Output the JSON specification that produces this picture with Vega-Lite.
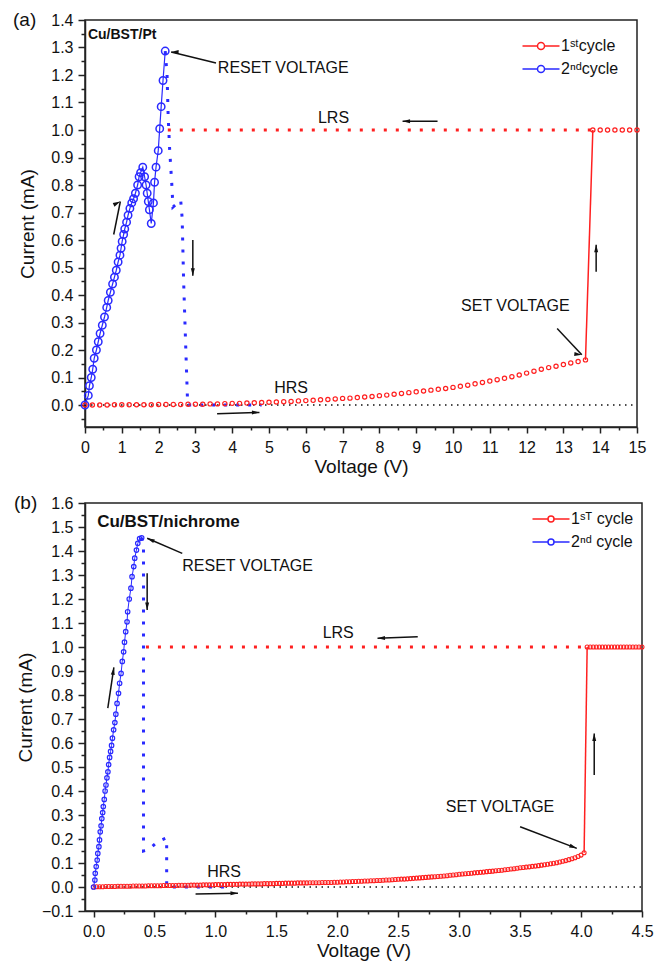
{
"$schema": "https://vega.github.io/schema/vega-lite/v6.json",
"padding": {"left": 12, "top": 10, "right": 8, "bottom": 5},
"columns": 1,
"spacing": 16,
"resolve": {"scale": {"color": "independent"}, "legend": {"color": "independent"}},
"config": {
  "font": "Liberation Sans",
  "view": {"stroke": "#222", "strokeWidth": 1.5},
  "axis": {"grid": false, "domainColor": "#222", "domainWidth": 1.5, "tickColor": "#222", "tickWidth": 1.5, "labelFont": "Liberation Sans", "labelFontSize": 16, "labelColor": "#111", "titleFont": "Liberation Sans", "titleFontSize": 19, "titleFontWeight": "normal", "titleColor": "#111", "labelFlush": false, "labelOverlap": false, "labelBound": false},
  "axisX": {"labelPadding": 6, "titlePadding": 2},
  "axisY": {"labelPadding": 5},
  "point": {"opacity": 1},
  "text": {"font": "Liberation Sans", "fontSize": 16, "color": "#111", "align": "left", "baseline": "middle"},
  "legend": {"title": null, "orient": "top-right", "labelFontSize": 16, "labelFont": "Liberation Sans", "labelColor": "#111", "symbolSize": 100, "symbolStrokeWidth": 1.5, "symbolFillColor": "transparent", "labelOffset": 12, "rowPadding": 7}
},
"concat": [
{
  "width": 552, "height": 407,
  "title": {"text": "(a)", "anchor": "start", "frame": "group", "orient": "top", "offset": 0, "dx": -72, "dy": 18, "fontSize": 19, "fontWeight": "normal", "font": "Liberation Sans", "color": "#111"},
  "encoding": {
    "x": {"field": "x", "type": "quantitative", "title": "Voltage (V)", "scale": {"domain": [0, 15], "nice": false, "zero": false},
      "axis": {"values": [0,0.5,1,1.5,2,2.5,3,3.5,4,4.5,5,5.5,6,6.5,7,7.5,8,8.5,9,9.5,10,10.5,11,11.5,12,12.5,13,13.5,14,14.5,15],
        "labelExpr": "datum.value % 1 === 0 ? format(datum.value, 'd') : ''",
        "tickSize": {"condition": {"test": "datum.value % 1 === 0", "value": 6}, "value": 3}}},
    "y": {"field": "y", "type": "quantitative", "title": "Current (mA)", "scale": {"domain": [-0.08, 1.4], "nice": false, "zero": false},
      "axis": {"titlePadding": 13, "values": [-0.05,0,0.05,0.1,0.15,0.2,0.25,0.3,0.35,0.4,0.45,0.5,0.55,0.6,0.65,0.7,0.75,0.8,0.85,0.9,0.95,1,1.05,1.1,1.15,1.2,1.25,1.3,1.35,1.4],
        "labelExpr": "abs(datum.value*10 - round(datum.value*10)) < 0.000001 ? format(datum.value, '.1f') : ''",
        "tickSize": {"condition": {"test": "abs(datum.value*10 - round(datum.value*10)) < 0.000001", "value": 7}, "value": 4}}}
  },
  "layer": [
    {"data": {"values": [{"x": 0, "y": 0}, {"x": 15, "y": 0}]},
     "mark": {"type": "line", "color": "#111", "strokeWidth": 1.5, "strokeDash": [1.5, 4.5]}, "encoding": {}},
    {"data": {"values": [{"x": 2.25, "y": 1}, {"x": 13.8, "y": 1}]},
     "mark": {"type": "line", "color": "#ff2020", "strokeWidth": 3, "strokeDash": [3, 9]}, "encoding": {}},
    {"data": {"values": [{"x": 2.18, "y": 1.287}, {"x": 2.23, "y": 1.2}, {"x": 2.26, "y": 1.05}, {"x": 2.3, "y": 0.93}, {"x": 2.36, "y": 0.8}, {"x": 2.39, "y": 0.72}, {"x": 2.6, "y": 0.745}, {"x": 2.64, "y": 0.68}, {"x": 2.68, "y": 0.45}, {"x": 2.74, "y": 0.2}, {"x": 2.79, "y": 0}, {"x": 4.8, "y": 0}]},
     "mark": {"type": "line", "color": "#2a2aff", "strokeWidth": 3, "strokeDash": [3, 9]}, "encoding": {"order": {"value": null}}},
    {"data": {"values": [{"x": 13.6, "y": 0.164}, {"x": 13.8, "y": 1}]},
     "mark": {"type": "line", "color": "#ff2020", "strokeWidth": 1.5}, "encoding": {}},
    {"data": {"name": "topBlue", "values": [
      {"x":0,"y":0,"s":"2ⁿᵈcycle"},{"x":0.09,"y":0.035,"s":"2ⁿᵈcycle"},{"x":0.12,"y":0.07,"s":"2ⁿᵈcycle"},{"x":0.17,"y":0.1,"s":"2ⁿᵈcycle"},{"x":0.21,"y":0.13,"s":"2ⁿᵈcycle"},{"x":0.25,"y":0.17,"s":"2ⁿᵈcycle"},{"x":0.31,"y":0.2,"s":"2ⁿᵈcycle"},{"x":0.36,"y":0.23,"s":"2ⁿᵈcycle"},{"x":0.41,"y":0.26,"s":"2ⁿᵈcycle"},{"x":0.47,"y":0.29,"s":"2ⁿᵈcycle"},{"x":0.53,"y":0.32,"s":"2ⁿᵈcycle"},{"x":0.59,"y":0.355,"s":"2ⁿᵈcycle"},{"x":0.63,"y":0.38,"s":"2ⁿᵈcycle"},{"x":0.69,"y":0.41,"s":"2ⁿᵈcycle"},{"x":0.75,"y":0.44,"s":"2ⁿᵈcycle"},{"x":0.8,"y":0.465,"s":"2ⁿᵈcycle"},{"x":0.85,"y":0.49,"s":"2ⁿᵈcycle"},{"x":0.9,"y":0.52,"s":"2ⁿᵈcycle"},{"x":0.95,"y":0.545,"s":"2ⁿᵈcycle"},{"x":0.98,"y":0.57,"s":"2ⁿᵈcycle"},{"x":1.01,"y":0.595,"s":"2ⁿᵈcycle"},{"x":1.05,"y":0.62,"s":"2ⁿᵈcycle"},{"x":1.08,"y":0.64,"s":"2ⁿᵈcycle"},{"x":1.13,"y":0.665,"s":"2ⁿᵈcycle"},{"x":1.17,"y":0.69,"s":"2ⁿᵈcycle"},{"x":1.22,"y":0.715,"s":"2ⁿᵈcycle"},{"x":1.27,"y":0.735,"s":"2ⁿᵈcycle"},{"x":1.32,"y":0.75,"s":"2ⁿᵈcycle"},{"x":1.37,"y":0.77,"s":"2ⁿᵈcycle"},{"x":1.43,"y":0.8,"s":"2ⁿᵈcycle"},{"x":1.47,"y":0.83,"s":"2ⁿᵈcycle"},{"x":1.51,"y":0.845,"s":"2ⁿᵈcycle"},{"x":1.57,"y":0.865,"s":"2ⁿᵈcycle"},{"x":1.62,"y":0.83,"s":"2ⁿᵈcycle"},{"x":1.66,"y":0.8,"s":"2ⁿᵈcycle"},{"x":1.69,"y":0.77,"s":"2ⁿᵈcycle"},{"x":1.72,"y":0.74,"s":"2ⁿᵈcycle"},{"x":1.75,"y":0.71,"s":"2ⁿᵈcycle"},{"x":1.8,"y":0.66,"s":"2ⁿᵈcycle"},{"x":1.86,"y":0.735,"s":"2ⁿᵈcycle"},{"x":1.89,"y":0.81,"s":"2ⁿᵈcycle"},{"x":1.93,"y":0.865,"s":"2ⁿᵈcycle"},{"x":1.99,"y":0.925,"s":"2ⁿᵈcycle"},{"x":2.03,"y":1.005,"s":"2ⁿᵈcycle"},{"x":2.07,"y":1.085,"s":"2ⁿᵈcycle"},{"x":2.12,"y":1.18,"s":"2ⁿᵈcycle"},{"x":2.18,"y":1.287,"s":"2ⁿᵈcycle"}]},
     "mark": {"type": "line", "color": "#2a2aff", "strokeWidth": 1.2}, "encoding": {"order": {"value": null}}},
    {"data": {"values": [
      {"x":0,"y":0,"s":"1ˢᵗcycle"},{"x":0.2,"y":0,"s":"1ˢᵗcycle"},{"x":0.4,"y":0,"s":"1ˢᵗcycle"},{"x":0.6,"y":0,"s":"1ˢᵗcycle"},{"x":0.8,"y":0.001,"s":"1ˢᵗcycle"},{"x":1,"y":0.001,"s":"1ˢᵗcycle"},{"x":1.2,"y":0.001,"s":"1ˢᵗcycle"},{"x":1.4,"y":0.001,"s":"1ˢᵗcycle"},{"x":1.6,"y":0.001,"s":"1ˢᵗcycle"},{"x":1.8,"y":0.001,"s":"1ˢᵗcycle"},{"x":2,"y":0.002,"s":"1ˢᵗcycle"},{"x":2.2,"y":0.002,"s":"1ˢᵗcycle"},{"x":2.4,"y":0.002,"s":"1ˢᵗcycle"},{"x":2.6,"y":0.002,"s":"1ˢᵗcycle"},{"x":2.8,"y":0.003,"s":"1ˢᵗcycle"},{"x":3,"y":0.003,"s":"1ˢᵗcycle"},{"x":3.2,"y":0.003,"s":"1ˢᵗcycle"},{"x":3.4,"y":0.004,"s":"1ˢᵗcycle"},{"x":3.6,"y":0.004,"s":"1ˢᵗcycle"},{"x":3.8,"y":0.005,"s":"1ˢᵗcycle"},{"x":4,"y":0.006,"s":"1ˢᵗcycle"},{"x":4.2,"y":0.006,"s":"1ˢᵗcycle"},{"x":4.4,"y":0.007,"s":"1ˢᵗcycle"},{"x":4.6,"y":0.008,"s":"1ˢᵗcycle"},{"x":4.8,"y":0.009,"s":"1ˢᵗcycle"},{"x":5,"y":0.01,"s":"1ˢᵗcycle"},{"x":5.2,"y":0.011,"s":"1ˢᵗcycle"},{"x":5.4,"y":0.012,"s":"1ˢᵗcycle"},{"x":5.6,"y":0.013,"s":"1ˢᵗcycle"},{"x":5.8,"y":0.015,"s":"1ˢᵗcycle"},{"x":6,"y":0.016,"s":"1ˢᵗcycle"},{"x":6.2,"y":0.017,"s":"1ˢᵗcycle"},{"x":6.4,"y":0.019,"s":"1ˢᵗcycle"},{"x":6.6,"y":0.02,"s":"1ˢᵗcycle"},{"x":6.8,"y":0.022,"s":"1ˢᵗcycle"},{"x":7,"y":0.024,"s":"1ˢᵗcycle"},{"x":7.2,"y":0.025,"s":"1ˢᵗcycle"},{"x":7.4,"y":0.027,"s":"1ˢᵗcycle"},{"x":7.6,"y":0.029,"s":"1ˢᵗcycle"},{"x":7.8,"y":0.031,"s":"1ˢᵗcycle"},{"x":8,"y":0.034,"s":"1ˢᵗcycle"},{"x":8.2,"y":0.036,"s":"1ˢᵗcycle"},{"x":8.4,"y":0.039,"s":"1ˢᵗcycle"},{"x":8.6,"y":0.042,"s":"1ˢᵗcycle"},{"x":8.8,"y":0.045,"s":"1ˢᵗcycle"},{"x":9,"y":0.048,"s":"1ˢᵗcycle"},{"x":9.2,"y":0.051,"s":"1ˢᵗcycle"},{"x":9.4,"y":0.054,"s":"1ˢᵗcycle"},{"x":9.6,"y":0.057,"s":"1ˢᵗcycle"},{"x":9.8,"y":0.06,"s":"1ˢᵗcycle"},{"x":10,"y":0.064,"s":"1ˢᵗcycle"},{"x":10.2,"y":0.068,"s":"1ˢᵗcycle"},{"x":10.4,"y":0.072,"s":"1ˢᵗcycle"},{"x":10.6,"y":0.077,"s":"1ˢᵗcycle"},{"x":10.8,"y":0.082,"s":"1ˢᵗcycle"},{"x":11,"y":0.087,"s":"1ˢᵗcycle"},{"x":11.2,"y":0.092,"s":"1ˢᵗcycle"},{"x":11.4,"y":0.097,"s":"1ˢᵗcycle"},{"x":11.6,"y":0.103,"s":"1ˢᵗcycle"},{"x":11.8,"y":0.109,"s":"1ˢᵗcycle"},{"x":12,"y":0.116,"s":"1ˢᵗcycle"},{"x":12.2,"y":0.123,"s":"1ˢᵗcycle"},{"x":12.4,"y":0.13,"s":"1ˢᵗcycle"},{"x":12.6,"y":0.136,"s":"1ˢᵗcycle"},{"x":12.8,"y":0.141,"s":"1ˢᵗcycle"},{"x":13,"y":0.147,"s":"1ˢᵗcycle"},{"x":13.2,"y":0.153,"s":"1ˢᵗcycle"},{"x":13.4,"y":0.158,"s":"1ˢᵗcycle"},{"x":13.6,"y":0.164,"s":"1ˢᵗcycle"},
      {"x":13.8,"y":1,"s":"1ˢᵗcycle"},{"x":14,"y":1,"s":"1ˢᵗcycle"},{"x":14.2,"y":1,"s":"1ˢᵗcycle"},{"x":14.4,"y":1,"s":"1ˢᵗcycle"},{"x":14.6,"y":1,"s":"1ˢᵗcycle"},{"x":14.8,"y":1,"s":"1ˢᵗcycle"},{"x":15,"y":1,"s":"1ˢᵗcycle"}]},
     "mark": {"type": "point", "filled": false, "size": 18, "strokeWidth": 1.2, "opacity": 1},
     "encoding": {"color": {"field": "s", "type": "nominal", "scale": {"domain": ["1ˢᵗcycle", "2ⁿᵈcycle"], "range": ["#ff2020", "#2a2aff"]},
       "legend": {"offset": 18, "symbolType": "M-3.7,0L-0.7,0M0.7,0L3.7,0M0.7,0A0.7,0.7,0,1,1,-0.7,0A0.7,0.7,0,1,1,0.7,0"}}}},
    {"data": {"name": "topBlue"},
     "mark": {"type": "point", "filled": false, "size": 55, "strokeWidth": 1.5, "opacity": 1},
     "encoding": {"color": {"field": "s", "type": "nominal", "scale": {"domain": ["1ˢᵗcycle", "2ⁿᵈcycle"], "range": ["#ff2020", "#2a2aff"]},
       "legend": {"offset": 18, "symbolType": "M-3.7,0L-0.7,0M0.7,0L3.7,0M0.7,0A0.7,0.7,0,1,1,-0.7,0A0.7,0.7,0,1,1,0.7,0"}}}},
    {"data": {"values": [{"x": 3.61, "y": 1.225, "t": "RESET VOLTAGE"}, {"x": 6.33, "y": 1.043, "t": "LRS"}, {"x": 10.22, "y": 0.36, "t": "SET VOLTAGE"}, {"x": 5.14, "y": 0.062, "t": "HRS"}]},
     "mark": {"type": "text"}, "encoding": {"text": {"field": "t"}}},
    {"data": {"values": [{"x": 0.08, "y": 1.345, "t": "Cu/BST/Pt"}]},
     "mark": {"type": "text", "fontWeight": "bold", "fontSize": 14}, "encoding": {"text": {"field": "t"}}},
    {"data": {"name": "topArrows", "values": [
      {"x": 2.34, "y": 1.284, "x2": 3.56, "y2": 1.244},
      {"x": 8.63, "y": 1.032, "x2": 9.58, "y2": 1.032},
      {"x": 13.5, "y": 0.183, "x2": 12.83, "y2": 0.278},
      {"x": 13.89, "y": 0.583, "x2": 13.89, "y2": 0.485},
      {"x": 4.74, "y": -0.027, "x2": 3.59, "y2": -0.032},
      {"x": 0.96, "y": 0.74, "x2": 0.78, "y2": 0.62},
      {"x": 2.93, "y": 0.47, "x2": 2.93, "y2": 0.6}]},
     "mark": {"type": "rule", "color": "#111", "strokeWidth": 1.5},
     "encoding": {"x2": {"field": "x2"}, "y2": {"field": "y2"}}},
    {"data": {"name": "topArrows"},
     "transform": [{"calculate": "atan2((datum.x - datum.x2) * 36.8, (datum.y - datum.y2) * 27.43) * 180 / PI", "as": "a"}],
     "mark": {"type": "point", "shape": "M0,0L0.8,3L-0.8,3Z", "filled": true, "color": "#111", "size": 25, "opacity": 1},
     "encoding": {"angle": {"field": "a", "type": "quantitative", "scale": null}}}
  ]
},
{
  "width": 557, "height": 408,
  "title": {"text": "(b)", "anchor": "start", "frame": "group", "orient": "top", "offset": 0, "dx": -71, "dy": 18, "fontSize": 19, "fontWeight": "normal", "font": "Liberation Sans", "color": "#111"},
  "encoding": {
    "x": {"field": "x", "type": "quantitative", "title": "Voltage (V)", "scale": {"domain": [-0.07, 4.5], "nice": false, "zero": false},
      "axis": {"values": [0,0.25,0.5,0.75,1,1.25,1.5,1.75,2,2.25,2.5,2.75,3,3.25,3.5,3.75,4,4.25,4.5],
        "labelExpr": "(datum.value*2) % 1 === 0 ? format(datum.value, '.1f') : ''",
        "tickSize": {"condition": {"test": "(datum.value*2) % 1 === 0", "value": 6}, "value": 3}}},
    "y": {"field": "y", "type": "quantitative", "title": "Current (mA)", "scale": {"domain": [-0.1, 1.6], "nice": false, "zero": false},
      "axis": {"titlePadding": 6, "values": [-0.1,-0.05,0,0.05,0.1,0.15,0.2,0.25,0.3,0.35,0.4,0.45,0.5,0.55,0.6,0.65,0.7,0.75,0.8,0.85,0.9,0.95,1,1.05,1.1,1.15,1.2,1.25,1.3,1.35,1.4,1.45,1.5,1.55,1.6],
        "labelExpr": "abs(datum.value*10 - round(datum.value*10)) < 0.000001 ? format(datum.value, '.1f') : ''",
        "tickSize": {"condition": {"test": "abs(datum.value*10 - round(datum.value*10)) < 0.000001", "value": 7}, "value": 4}}}
  },
  "layer": [
    {"data": {"values": [{"x": 0, "y": 0}, {"x": 4.5, "y": 0}]},
     "mark": {"type": "line", "color": "#111", "strokeWidth": 1.5, "strokeDash": [1.5, 4.5]}, "encoding": {}},
    {"data": {"values": [{"x": 0.43, "y": 1}, {"x": 4.05, "y": 1}]},
     "mark": {"type": "line", "color": "#ff2020", "strokeWidth": 3, "strokeDash": [3, 9]}, "encoding": {}},
    {"data": {"values": [{"x": 0.395, "y": 1.455}, {"x": 0.41, "y": 1.42}, {"x": 0.41, "y": 0.15}, {"x": 0.45, "y": 0.155}, {"x": 0.53, "y": 0.19}, {"x": 0.6, "y": 0.205}, {"x": 0.6, "y": 0}, {"x": 1.1, "y": 0}]},
     "mark": {"type": "line", "color": "#2a2aff", "strokeWidth": 3, "strokeDash": [3, 9]}, "encoding": {"order": {"value": null}}},
    {"data": {"values": [{"x": 4.025, "y": 0.143}, {"x": 4.05, "y": 1}]},
     "mark": {"type": "line", "color": "#ff2020", "strokeWidth": 1.5}, "encoding": {}},
    {"data": {"name": "botBlue", "values": [
      {"x":0,"y":0,"s":"2ⁿᵈ cycle"},{"x":0.011,"y":0.029,"s":"2ⁿᵈ cycle"},{"x":0.014,"y":0.057,"s":"2ⁿᵈ cycle"},{"x":0.022,"y":0.085,"s":"2ⁿᵈ cycle"},{"x":0.03,"y":0.112,"s":"2ⁿᵈ cycle"},{"x":0.035,"y":0.14,"s":"2ⁿᵈ cycle"},{"x":0.044,"y":0.168,"s":"2ⁿᵈ cycle"},{"x":0.049,"y":0.196,"s":"2ⁿᵈ cycle"},{"x":0.055,"y":0.23,"s":"2ⁿᵈ cycle"},{"x":0.062,"y":0.255,"s":"2ⁿᵈ cycle"},{"x":0.068,"y":0.285,"s":"2ⁿᵈ cycle"},{"x":0.075,"y":0.31,"s":"2ⁿᵈ cycle"},{"x":0.08,"y":0.335,"s":"2ⁿᵈ cycle"},{"x":0.088,"y":0.365,"s":"2ⁿᵈ cycle"},{"x":0.095,"y":0.4,"s":"2ⁿᵈ cycle"},{"x":0.102,"y":0.425,"s":"2ⁿᵈ cycle"},{"x":0.11,"y":0.455,"s":"2ⁿᵈ cycle"},{"x":0.118,"y":0.48,"s":"2ⁿᵈ cycle"},{"x":0.124,"y":0.51,"s":"2ⁿᵈ cycle"},{"x":0.132,"y":0.54,"s":"2ⁿᵈ cycle"},{"x":0.14,"y":0.565,"s":"2ⁿᵈ cycle"},{"x":0.148,"y":0.59,"s":"2ⁿᵈ cycle"},{"x":0.155,"y":0.62,"s":"2ⁿᵈ cycle"},{"x":0.165,"y":0.655,"s":"2ⁿᵈ cycle"},{"x":0.175,"y":0.685,"s":"2ⁿᵈ cycle"},{"x":0.183,"y":0.72,"s":"2ⁿᵈ cycle"},{"x":0.193,"y":0.765,"s":"2ⁿᵈ cycle"},{"x":0.205,"y":0.807,"s":"2ⁿᵈ cycle"},{"x":0.214,"y":0.849,"s":"2ⁿᵈ cycle"},{"x":0.226,"y":0.89,"s":"2ⁿᵈ cycle"},{"x":0.236,"y":0.94,"s":"2ⁿᵈ cycle"},{"x":0.247,"y":0.98,"s":"2ⁿᵈ cycle"},{"x":0.254,"y":1.02,"s":"2ⁿᵈ cycle"},{"x":0.264,"y":1.064,"s":"2ⁿᵈ cycle"},{"x":0.275,"y":1.105,"s":"2ⁿᵈ cycle"},{"x":0.28,"y":1.147,"s":"2ⁿᵈ cycle"},{"x":0.293,"y":1.2,"s":"2ⁿᵈ cycle"},{"x":0.307,"y":1.245,"s":"2ⁿᵈ cycle"},{"x":0.316,"y":1.293,"s":"2ⁿᵈ cycle"},{"x":0.33,"y":1.335,"s":"2ⁿᵈ cycle"},{"x":0.338,"y":1.37,"s":"2ⁿᵈ cycle"},{"x":0.352,"y":1.404,"s":"2ⁿᵈ cycle"},{"x":0.363,"y":1.432,"s":"2ⁿᵈ cycle"},{"x":0.378,"y":1.452,"s":"2ⁿᵈ cycle"},{"x":0.395,"y":1.455,"s":"2ⁿᵈ cycle"}]},
     "mark": {"type": "line", "color": "#2a2aff", "strokeWidth": 1}, "encoding": {"order": {"value": null}}},
    {"data": {"values": [
      {"x":0,"y":0,"s":"1ˢᵀ cycle"},{"x":0.025,"y":0.001,"s":"1ˢᵀ cycle"},{"x":0.05,"y":0.001,"s":"1ˢᵀ cycle"},{"x":0.075,"y":0.001,"s":"1ˢᵀ cycle"},{"x":0.1,"y":0.002,"s":"1ˢᵀ cycle"},{"x":0.125,"y":0.002,"s":"1ˢᵀ cycle"},{"x":0.15,"y":0.002,"s":"1ˢᵀ cycle"},{"x":0.175,"y":0.002,"s":"1ˢᵀ cycle"},{"x":0.2,"y":0.003,"s":"1ˢᵀ cycle"},{"x":0.225,"y":0.003,"s":"1ˢᵀ cycle"},{"x":0.25,"y":0.003,"s":"1ˢᵀ cycle"},{"x":0.275,"y":0.003,"s":"1ˢᵀ cycle"},{"x":0.3,"y":0.003,"s":"1ˢᵀ cycle"},{"x":0.325,"y":0.004,"s":"1ˢᵀ cycle"},{"x":0.35,"y":0.004,"s":"1ˢᵀ cycle"},{"x":0.375,"y":0.004,"s":"1ˢᵀ cycle"},{"x":0.4,"y":0.004,"s":"1ˢᵀ cycle"},{"x":0.425,"y":0.004,"s":"1ˢᵀ cycle"},{"x":0.45,"y":0.005,"s":"1ˢᵀ cycle"},{"x":0.475,"y":0.005,"s":"1ˢᵀ cycle"},
      {"x":0.5,"y":0.005,"s":"1ˢᵀ cycle"},{"x":0.525,"y":0.005,"s":"1ˢᵀ cycle"},{"x":0.55,"y":0.005,"s":"1ˢᵀ cycle"},{"x":0.575,"y":0.006,"s":"1ˢᵀ cycle"},{"x":0.6,"y":0.006,"s":"1ˢᵀ cycle"},{"x":0.625,"y":0.006,"s":"1ˢᵀ cycle"},{"x":0.65,"y":0.006,"s":"1ˢᵀ cycle"},{"x":0.675,"y":0.006,"s":"1ˢᵀ cycle"},{"x":0.7,"y":0.007,"s":"1ˢᵀ cycle"},{"x":0.725,"y":0.007,"s":"1ˢᵀ cycle"},{"x":0.75,"y":0.007,"s":"1ˢᵀ cycle"},{"x":0.775,"y":0.007,"s":"1ˢᵀ cycle"},{"x":0.8,"y":0.008,"s":"1ˢᵀ cycle"},{"x":0.825,"y":0.008,"s":"1ˢᵀ cycle"},{"x":0.85,"y":0.008,"s":"1ˢᵀ cycle"},{"x":0.875,"y":0.008,"s":"1ˢᵀ cycle"},{"x":0.9,"y":0.009,"s":"1ˢᵀ cycle"},{"x":0.925,"y":0.009,"s":"1ˢᵀ cycle"},{"x":0.95,"y":0.009,"s":"1ˢᵀ cycle"},{"x":0.975,"y":0.009,"s":"1ˢᵀ cycle"},
      {"x":1,"y":0.01,"s":"1ˢᵀ cycle"},{"x":1.025,"y":0.01,"s":"1ˢᵀ cycle"},{"x":1.05,"y":0.01,"s":"1ˢᵀ cycle"},{"x":1.075,"y":0.01,"s":"1ˢᵀ cycle"},{"x":1.1,"y":0.011,"s":"1ˢᵀ cycle"},{"x":1.125,"y":0.011,"s":"1ˢᵀ cycle"},{"x":1.15,"y":0.011,"s":"1ˢᵀ cycle"},{"x":1.175,"y":0.011,"s":"1ˢᵀ cycle"},{"x":1.2,"y":0.012,"s":"1ˢᵀ cycle"},{"x":1.225,"y":0.012,"s":"1ˢᵀ cycle"},{"x":1.25,"y":0.012,"s":"1ˢᵀ cycle"},{"x":1.275,"y":0.012,"s":"1ˢᵀ cycle"},{"x":1.3,"y":0.013,"s":"1ˢᵀ cycle"},{"x":1.325,"y":0.013,"s":"1ˢᵀ cycle"},{"x":1.35,"y":0.013,"s":"1ˢᵀ cycle"},{"x":1.375,"y":0.013,"s":"1ˢᵀ cycle"},{"x":1.4,"y":0.014,"s":"1ˢᵀ cycle"},{"x":1.425,"y":0.014,"s":"1ˢᵀ cycle"},{"x":1.45,"y":0.014,"s":"1ˢᵀ cycle"},{"x":1.475,"y":0.014,"s":"1ˢᵀ cycle"},
      {"x":1.5,"y":0.015,"s":"1ˢᵀ cycle"},{"x":1.525,"y":0.015,"s":"1ˢᵀ cycle"},{"x":1.55,"y":0.015,"s":"1ˢᵀ cycle"},{"x":1.575,"y":0.016,"s":"1ˢᵀ cycle"},{"x":1.6,"y":0.016,"s":"1ˢᵀ cycle"},{"x":1.625,"y":0.016,"s":"1ˢᵀ cycle"},{"x":1.65,"y":0.016,"s":"1ˢᵀ cycle"},{"x":1.675,"y":0.017,"s":"1ˢᵀ cycle"},{"x":1.7,"y":0.017,"s":"1ˢᵀ cycle"},{"x":1.725,"y":0.017,"s":"1ˢᵀ cycle"},{"x":1.75,"y":0.017,"s":"1ˢᵀ cycle"},{"x":1.775,"y":0.018,"s":"1ˢᵀ cycle"},{"x":1.8,"y":0.018,"s":"1ˢᵀ cycle"},{"x":1.825,"y":0.018,"s":"1ˢᵀ cycle"},{"x":1.85,"y":0.018,"s":"1ˢᵀ cycle"},{"x":1.875,"y":0.019,"s":"1ˢᵀ cycle"},{"x":1.9,"y":0.019,"s":"1ˢᵀ cycle"},{"x":1.925,"y":0.019,"s":"1ˢᵀ cycle"},{"x":1.95,"y":0.019,"s":"1ˢᵀ cycle"},{"x":1.975,"y":0.02,"s":"1ˢᵀ cycle"},
      {"x":2,"y":0.02,"s":"1ˢᵀ cycle"},{"x":2.025,"y":0.021,"s":"1ˢᵀ cycle"},{"x":2.05,"y":0.021,"s":"1ˢᵀ cycle"},{"x":2.075,"y":0.022,"s":"1ˢᵀ cycle"},{"x":2.1,"y":0.022,"s":"1ˢᵀ cycle"},{"x":2.125,"y":0.023,"s":"1ˢᵀ cycle"},{"x":2.15,"y":0.023,"s":"1ˢᵀ cycle"},{"x":2.175,"y":0.024,"s":"1ˢᵀ cycle"},{"x":2.2,"y":0.024,"s":"1ˢᵀ cycle"},{"x":2.225,"y":0.025,"s":"1ˢᵀ cycle"},{"x":2.25,"y":0.025,"s":"1ˢᵀ cycle"},{"x":2.275,"y":0.026,"s":"1ˢᵀ cycle"},{"x":2.3,"y":0.026,"s":"1ˢᵀ cycle"},{"x":2.325,"y":0.027,"s":"1ˢᵀ cycle"},{"x":2.35,"y":0.027,"s":"1ˢᵀ cycle"},{"x":2.375,"y":0.028,"s":"1ˢᵀ cycle"},{"x":2.4,"y":0.029,"s":"1ˢᵀ cycle"},{"x":2.425,"y":0.029,"s":"1ˢᵀ cycle"},{"x":2.45,"y":0.03,"s":"1ˢᵀ cycle"},{"x":2.475,"y":0.031,"s":"1ˢᵀ cycle"},
      {"x":2.5,"y":0.032,"s":"1ˢᵀ cycle"},{"x":2.525,"y":0.033,"s":"1ˢᵀ cycle"},{"x":2.55,"y":0.033,"s":"1ˢᵀ cycle"},{"x":2.575,"y":0.034,"s":"1ˢᵀ cycle"},{"x":2.6,"y":0.035,"s":"1ˢᵀ cycle"},{"x":2.625,"y":0.036,"s":"1ˢᵀ cycle"},{"x":2.65,"y":0.037,"s":"1ˢᵀ cycle"},{"x":2.675,"y":0.038,"s":"1ˢᵀ cycle"},{"x":2.7,"y":0.039,"s":"1ˢᵀ cycle"},{"x":2.725,"y":0.04,"s":"1ˢᵀ cycle"},{"x":2.75,"y":0.041,"s":"1ˢᵀ cycle"},{"x":2.775,"y":0.042,"s":"1ˢᵀ cycle"},{"x":2.8,"y":0.043,"s":"1ˢᵀ cycle"},{"x":2.825,"y":0.044,"s":"1ˢᵀ cycle"},{"x":2.85,"y":0.045,"s":"1ˢᵀ cycle"},{"x":2.875,"y":0.046,"s":"1ˢᵀ cycle"},{"x":2.9,"y":0.047,"s":"1ˢᵀ cycle"},{"x":2.925,"y":0.049,"s":"1ˢᵀ cycle"},{"x":2.95,"y":0.05,"s":"1ˢᵀ cycle"},{"x":2.975,"y":0.051,"s":"1ˢᵀ cycle"},
      {"x":3,"y":0.053,"s":"1ˢᵀ cycle"},{"x":3.025,"y":0.054,"s":"1ˢᵀ cycle"},{"x":3.05,"y":0.055,"s":"1ˢᵀ cycle"},{"x":3.075,"y":0.056,"s":"1ˢᵀ cycle"},{"x":3.1,"y":0.057,"s":"1ˢᵀ cycle"},{"x":3.125,"y":0.059,"s":"1ˢᵀ cycle"},{"x":3.15,"y":0.06,"s":"1ˢᵀ cycle"},{"x":3.175,"y":0.061,"s":"1ˢᵀ cycle"},{"x":3.2,"y":0.062,"s":"1ˢᵀ cycle"},{"x":3.225,"y":0.064,"s":"1ˢᵀ cycle"},{"x":3.25,"y":0.065,"s":"1ˢᵀ cycle"},{"x":3.275,"y":0.066,"s":"1ˢᵀ cycle"},{"x":3.3,"y":0.068,"s":"1ˢᵀ cycle"},{"x":3.325,"y":0.069,"s":"1ˢᵀ cycle"},{"x":3.35,"y":0.07,"s":"1ˢᵀ cycle"},{"x":3.375,"y":0.072,"s":"1ˢᵀ cycle"},{"x":3.4,"y":0.073,"s":"1ˢᵀ cycle"},{"x":3.425,"y":0.075,"s":"1ˢᵀ cycle"},{"x":3.45,"y":0.076,"s":"1ˢᵀ cycle"},{"x":3.475,"y":0.078,"s":"1ˢᵀ cycle"},
      {"x":3.5,"y":0.08,"s":"1ˢᵀ cycle"},{"x":3.525,"y":0.081,"s":"1ˢᵀ cycle"},{"x":3.55,"y":0.083,"s":"1ˢᵀ cycle"},{"x":3.575,"y":0.084,"s":"1ˢᵀ cycle"},{"x":3.6,"y":0.086,"s":"1ˢᵀ cycle"},{"x":3.625,"y":0.087,"s":"1ˢᵀ cycle"},{"x":3.65,"y":0.089,"s":"1ˢᵀ cycle"},{"x":3.675,"y":0.091,"s":"1ˢᵀ cycle"},{"x":3.7,"y":0.093,"s":"1ˢᵀ cycle"},{"x":3.725,"y":0.095,"s":"1ˢᵀ cycle"},{"x":3.75,"y":0.097,"s":"1ˢᵀ cycle"},{"x":3.775,"y":0.099,"s":"1ˢᵀ cycle"},{"x":3.8,"y":0.101,"s":"1ˢᵀ cycle"},{"x":3.825,"y":0.104,"s":"1ˢᵀ cycle"},{"x":3.85,"y":0.107,"s":"1ˢᵀ cycle"},{"x":3.875,"y":0.11,"s":"1ˢᵀ cycle"},{"x":3.9,"y":0.114,"s":"1ˢᵀ cycle"},{"x":3.925,"y":0.118,"s":"1ˢᵀ cycle"},{"x":3.95,"y":0.122,"s":"1ˢᵀ cycle"},{"x":3.975,"y":0.127,"s":"1ˢᵀ cycle"},
      {"x":4,"y":0.133,"s":"1ˢᵀ cycle"},{"x":4.025,"y":0.143,"s":"1ˢᵀ cycle"},
      {"x":4.05,"y":1,"s":"1ˢᵀ cycle"},{"x":4.075,"y":1,"s":"1ˢᵀ cycle"},{"x":4.1,"y":1,"s":"1ˢᵀ cycle"},{"x":4.125,"y":1,"s":"1ˢᵀ cycle"},{"x":4.15,"y":1,"s":"1ˢᵀ cycle"},{"x":4.175,"y":1,"s":"1ˢᵀ cycle"},{"x":4.2,"y":1,"s":"1ˢᵀ cycle"},{"x":4.225,"y":1,"s":"1ˢᵀ cycle"},{"x":4.25,"y":1,"s":"1ˢᵀ cycle"},{"x":4.275,"y":1,"s":"1ˢᵀ cycle"},{"x":4.3,"y":1,"s":"1ˢᵀ cycle"},{"x":4.325,"y":1,"s":"1ˢᵀ cycle"},{"x":4.35,"y":1,"s":"1ˢᵀ cycle"},{"x":4.375,"y":1,"s":"1ˢᵀ cycle"},{"x":4.4,"y":1,"s":"1ˢᵀ cycle"},{"x":4.425,"y":1,"s":"1ˢᵀ cycle"},{"x":4.45,"y":1,"s":"1ˢᵀ cycle"},{"x":4.475,"y":1,"s":"1ˢᵀ cycle"},{"x":4.5,"y":1,"s":"1ˢᵀ cycle"}]},
     "mark": {"type": "point", "filled": false, "size": 16, "strokeWidth": 1.1, "opacity": 1},
     "encoding": {"color": {"field": "s", "type": "nominal", "scale": {"domain": ["1ˢᵀ cycle", "2ⁿᵈ cycle"], "range": ["#ff2020", "#2a2aff"]},
       "legend": {"offset": 8, "symbolType": "M-3.7,0L-0.6,0M0.6,0L3.7,0M0.6,0A0.6,0.6,0,1,1,-0.6,0A0.6,0.6,0,1,1,0.6,0"}}}},
    {"data": {"name": "botBlue"},
     "mark": {"type": "point", "filled": false, "size": 20, "strokeWidth": 1.2, "opacity": 1},
     "encoding": {"color": {"field": "s", "type": "nominal", "scale": {"domain": ["1ˢᵀ cycle", "2ⁿᵈ cycle"], "range": ["#ff2020", "#2a2aff"]},
       "legend": {"offset": 8, "symbolType": "M-3.7,0L-0.6,0M0.6,0L3.7,0M0.6,0A0.6,0.6,0,1,1,-0.6,0A0.6,0.6,0,1,1,0.6,0"}}}},
    {"data": {"values": [{"x": 0.728, "y": 1.339, "t": "RESET VOLTAGE"}, {"x": 1.88, "y": 1.057, "t": "LRS"}, {"x": 2.89, "y": 0.335, "t": "SET VOLTAGE"}, {"x": 0.933, "y": 0.064, "t": "HRS"}]},
     "mark": {"type": "text"}, "encoding": {"text": {"field": "t"}}},
    {"data": {"values": [{"x": 0.03, "y": 1.522, "t": "Cu/BST/nichrome"}]},
     "mark": {"type": "text", "fontWeight": "bold", "fontSize": 17}, "encoding": {"text": {"field": "t"}}},
    {"data": {"name": "botArrows", "values": [
      {"x": 0.44, "y": 1.453, "x2": 0.728, "y2": 1.39},
      {"x": 0.44, "y": 1.154, "x2": 0.44, "y2": 1.307},
      {"x": 0.167, "y": 0.915, "x2": 0.117, "y2": 0.745},
      {"x": 2.33, "y": 1.036, "x2": 2.66, "y2": 1.043},
      {"x": 3.965, "y": 0.161, "x2": 3.5, "y2": 0.251},
      {"x": 4.108, "y": 0.64, "x2": 4.108, "y2": 0.467},
      {"x": 1.185, "y": -0.026, "x2": 0.837, "y2": -0.029}]},
     "mark": {"type": "rule", "color": "#111", "strokeWidth": 1.5},
     "encoding": {"x2": {"field": "x2"}, "y2": {"field": "y2"}}},
    {"data": {"name": "botArrows"},
     "transform": [{"calculate": "atan2((datum.x - datum.x2) * 121.9, (datum.y - datum.y2) * 240) * 180 / PI", "as": "a"}],
     "mark": {"type": "point", "shape": "M0,0L0.8,3L-0.8,3Z", "filled": true, "color": "#111", "size": 25, "opacity": 1},
     "encoding": {"angle": {"field": "a", "type": "quantitative", "scale": null}}}
  ]
}
]
}
